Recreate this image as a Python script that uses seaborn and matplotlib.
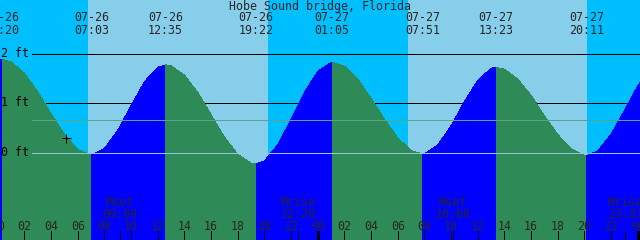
import matplotlib
matplotlib.use("Agg")
import matplotlib.pyplot as plt
import matplotlib.transforms as mtransforms
import pandas as pd
import seaborn as sns

# ---------------- data ----------------
title = "Hobe Sound bridge, Florida"

# hourly tide height (ft), hours counted from 07-26 00:00
hours = list(range(0, 50))
tide_ft = [1.86, 1.83, 1.60, 1.22, 0.78, 0.36, 0.06, -0.05, 0.08, 0.45,
           0.95, 1.43, 1.72, 1.75, 1.56, 1.21, 0.76, 0.31, -0.04, -0.22,
           -0.17, 0.16, 0.67, 1.22, 1.64, 1.82, 1.74, 1.48, 1.09, 0.67,
           0.29, 0.04, -0.03, 0.15, 0.54, 1.03, 1.46, 1.70, 1.68, 1.48,
           1.15, 0.74, 0.36, 0.07, -0.06, 0.03, 0.37, 0.85, 1.35, 1.72]

# high / low tide events
event_dates = ["07-26", "07-26", "07-26", "07-26", "07-27", "07-27", "07-27", "07-27"]
event_times = ["00:20", "07:03", "12:35", "19:22", "01:05", "07:51", "13:23", "20:11"]
event_ft = [1.88, -0.05, 1.77, -0.23, 1.82, -0.03, 1.72, -0.06]

# sun (day / night background)
sun_dates = ["07-26", "07-26", "07-27", "07-27"]
sun_times = ["06:45", "20:15", "06:46", "20:13"]
sun_kinds = ["rise", "set", "rise", "set"]

# moon events
moon_labels = ["Mset", "Mrise", "Mset", "Mrise"]
moon_dates = ["07-26", "07-26", "07-27", "07-27"]
moon_times = ["09:09", "22:29", "10:08", "23:03"]

depth_lines_ft = [0, 1, 2]
mean_level_ft = 0.65
now_date, now_time, now_ft = "07-26", "05:05", 0.30
hour_ticks = list(range(0, 49, 2))

# ---------------- style ----------------
DAY = "#87CEEB"
NIGHT = "#00BFFF"
RISE = "#0000FF"
FALL = "#2E8B57"
MSL = "#5AA58A"
DATUM = "#96C8E6"

sns.set_theme(style="white")
plt.rcParams["font.family"] = ["DejaVu Sans Mono", "DejaVu Sans"]
FS = 8.4
PX = 0.72  # points per pixel at dpi 100


def to_hours(d, t):
    day = int(d[-2:]) - 26
    hh, mm = t.split(":")
    return day * 24 + int(hh) + int(mm) / 60.0


W, H = 640, 240
fig = plt.figure(figsize=(6.4, 2.4), dpi=100)
ax = fig.add_axes([0, 0, 1, 1])
x0, x1 = 0.165, 48.165
ax.set_xlim(x0, x1)
ax.set_ylim((152.5 - H) / 49.5, 152.5 / 49.5)
ax.axis("off")

trans = mtransforms.blended_transform_factory(ax.transData, ax.transAxes)


def yfrac(row):
    return 1 - row / H


# sky background
sun_h = [to_hours(d, t) for d, t in zip(sun_dates, sun_times)]
edges = [x0 - 2] + sun_h + [x1 + 2]
for i, (a, b) in enumerate(zip(edges[:-1], edges[1:])):
    if i < len(sun_kinds):
        col = NIGHT if sun_kinds[i] == "rise" else DAY
    else:
        col = NIGHT if sun_kinds[-1] == "set" else DAY
    ax.axvspan(a, b, color=col, lw=0, zorder=0)

# black depth lines (behind water), datum line on top
for lv in depth_lines_ft:
    if lv == 0:
        ax.axhline(lv, xmin=32 / W, xmax=1, color=DATUM, lw=PX, antialiased=False, zorder=3)
    else:
        ax.axhline(lv, xmin=32 / W, xmax=1, color="black", lw=PX, antialiased=False, zorder=1)
    ax.annotate(f"{lv} ft", xy=(1 / W, lv), xycoords=("axes fraction", "data"),
                xytext=(0, -3.5 * PX), textcoords="offset points",
                ha="left", va="baseline", fontsize=FS, color="black", zorder=6)

ax.axhline(mean_level_ft, xmin=32 / W, xmax=1, color=MSL, lw=PX, antialiased=False, zorder=3)

# tide fill: rising = blue, falling = sea green
ev_h = [to_hours(d, t) for d, t in zip(event_dates, event_times)]
curve = pd.DataFrame({"h": hours + ev_h, "ft": tide_ft + event_ft})
curve = curve.sort_values("h").drop_duplicates("h").reset_index(drop=True)
bounds = [curve.h.min()] + ev_h + [curve.h.max()]
for a, b in zip(bounds[:-1], bounds[1:]):
    seg = curve[(curve.h >= a) & (curve.h <= b)]
    rising = seg.ft.iloc[-1] > seg.ft.iloc[0]
    ax.fill_between(seg.h, seg.ft, -5, color=RISE if rising else FALL,
                    lw=0, antialiased=False, zorder=2)

# event labels along top
for d, t, h in zip(event_dates, event_times, ev_h):
    ax.text(h, yfrac(20.8), d, transform=trans, ha="center", va="baseline", fontsize=FS, zorder=6)
    ax.text(h, yfrac(33.5), t, transform=trans, ha="center", va="baseline", fontsize=FS, zorder=6)

ax.text(0.5, yfrac(10.0), title, transform=ax.transAxes, ha="center", va="baseline", fontsize=FS, zorder=6)

# hour ticks and labels
for h in hour_ticks:
    if h % 24 == 0:
        ax.axvline(h, ymin=0, ymax=8 / H, color="black", lw=3 * PX, antialiased=False, zorder=5)
    else:
        ax.axvline(h, ymin=0, ymax=9 / H, color="black", lw=PX, antialiased=False, zorder=5)
    ax.text(h, yfrac(229.5), f"{h % 24:02d}", transform=trans, ha="center", va="baseline",
            fontsize=FS, zorder=6)

# moon events
for lab, d, t in zip(moon_labels, moon_dates, moon_times):
    h = to_hours(d, t)
    ax.axvline(h, ymin=0, ymax=9 / H, color="black", lw=PX, antialiased=False, zorder=5)
    ax.text(h, yfrac(206), lab, transform=trans, ha="center", va="baseline", fontsize=FS, zorder=6)
    ax.text(h, yfrac(218), t, transform=trans, ha="center", va="baseline", fontsize=FS, zorder=6)

# current-time mark
now_df = pd.DataFrame({"h": [to_hours(now_date, now_time)], "ft": [now_ft]})
sns.scatterplot(data=now_df, x="h", y="ft", marker="+", s=(9 * PX) ** 2, color="black",
                linewidth=PX, ax=ax, zorder=7, legend=False)
ax.set_xlim(x0, x1)
ax.set_ylim((152.5 - H) / 49.5, 152.5 / 49.5)
ax.axis("off")

fig.savefig("out.png", dpi=100)
